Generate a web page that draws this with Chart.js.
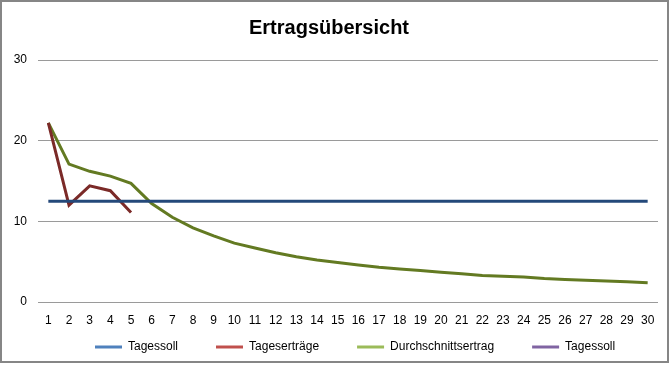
<!DOCTYPE html>
<html>
<head>
<meta charset="utf-8">
<script src="https://cdn.jsdelivr.net/npm/chart.js@4/dist/chart.umd.min.js"></script>
<style>
  html, body { margin: 0; padding: 0; background: #fff; }
  #wrap { width: 671px; height: 365px; }
</style>
</head>
<body>
<div id="wrap"><canvas id="chart" width="671" height="365"></canvas></div>
<script>
// data
var days = ['1','2','3','4','5','6','7','8','9','10','11','12','13','14','15',
            '16','17','18','19','20','21','22','23','24','25','26','27','28','29','30'];
var tagessoll = [12.5,12.5,12.5,12.5,12.5,12.5,12.5,12.5,12.5,12.5,12.5,12.5,12.5,12.5,12.5,
                 12.5,12.5,12.5,12.5,12.5,12.5,12.5,12.5,12.5,12.5,12.5,12.5,12.5,12.5,12.5];
var tagesertraege = [22.2, 12.0, 14.4, 13.8, 11.1];
var durchschnitt = [22.2, 17.1, 16.2, 15.6, 14.7, 12.2, 10.5, 9.2, 8.2, 7.3,
                    6.7, 6.1, 5.6, 5.2, 4.9, 4.6, 4.3, 4.1, 3.9, 3.7,
                    3.5, 3.3, 3.2, 3.1, 2.9, 2.8, 2.7, 2.6, 2.5, 2.4];
var tagessoll2 = [];
var yTicks = [0, 10, 20, 30];

// line colours and the (lighter) legend colours
var lineColors = ['#24497A', '#7B2A28', '#637A22', '#5C4A7A'];
var legendColors = ['#4F81BD', '#C0504D', '#9BBB59', '#8064A2'];

var legendPad = 38;

var frame = {
  id: 'frame',
  beforeDraw: function (chart) {
    var c = chart.ctx;
    c.save();
    c.fillStyle = '#fff';
    c.fillRect(0, 0, chart.width, chart.height);
    c.restore();
  },
  afterLayout: function (chart) {
    // legend items sit "padding" below/right of the box, move the box
    if (chart.legend) {
      chart.legend.top = 341 - legendPad;
      chart.legend.left = 95 - legendPad;
    }
  },
  afterDraw: function (chart) {
    var c = chart.ctx;
    c.save();
    c.strokeStyle = '#868686';
    c.lineWidth = 2;
    c.strokeRect(1, 1, 667, 361);
    c.restore();
  }
};

function ds(label, data, i) {
  return {
    label: label,
    data: data,
    borderColor: lineColors[i],
    backgroundColor: legendColors[i],
    borderWidth: 3,
    pointRadius: 0,
    tension: 0,
    fill: false,
    order: i
  };
}

var ctx = document.getElementById('chart').getContext('2d');
var chart = new Chart(ctx, {
  type: 'line',
  data: {
    labels: days,
    datasets: [
      ds('Tagessoll', tagessoll, 0),
      ds('Tageserträge', tagesertraege, 1),
      ds('Durchschnittsertrag', durchschnitt, 2),
      ds('Tagessoll', tagessoll2, 3)
    ]
  },
  options: {
    responsive: false,
    animation: false,
    layout: { padding: { left: 0, right: 13, top: 0, bottom: 0 } },
    plugins: {
      title: {
        display: true,
        text: 'Ertragsübersicht',
        color: '#000',
        font: { family: 'Liberation Sans', size: 20, weight: 'bold' },
        padding: { top: 16, bottom: 20 }
      },
      legend: {
        position: 'bottom',
        align: 'start',
        maxHeight: 24,
        labels: {
          boxWidth: 27,
          boxHeight: 3,
          padding: legendPad,
          color: '#000',
          font: { family: 'Liberation Sans', size: 12 },
          generateLabels: function (chart) {
            return chart.data.datasets.map(function (d, i) {
              return {
                text: d.label,
                fillStyle: legendColors[i],
                strokeStyle: legendColors[i],
                lineWidth: 0,
                hidden: false,
                datasetIndex: i
              };
            });
          }
        }
      },
      tooltip: { enabled: false }
    },
    scales: {
      x: {
        offset: true,
        grid: { display: false, drawTicks: false },
        border: { display: false },
        ticks: {
          autoSkip: false,
          maxRotation: 0,
          padding: 11,
          color: '#000',
          font: { family: 'Liberation Sans', size: 12 }
        },
        afterFit: function (s) { s.height = 39; }
      },
      y: {
        min: 0,
        max: 30,
        afterBuildTicks: function (s) {
          s.ticks = yTicks.map(function (v) { return { value: v }; });
        },
        grid: { color: '#9A9A9A', lineWidth: 1, drawTicks: false },
        border: { display: false },
        ticks: {
          padding: 11,
          color: '#000',
          font: { family: 'Liberation Sans', size: 12 }
        },
        afterFit: function (s) { s.width = 38; }
      }
    }
  },
  plugins: [frame]
});
</script>
</body>
</html>
